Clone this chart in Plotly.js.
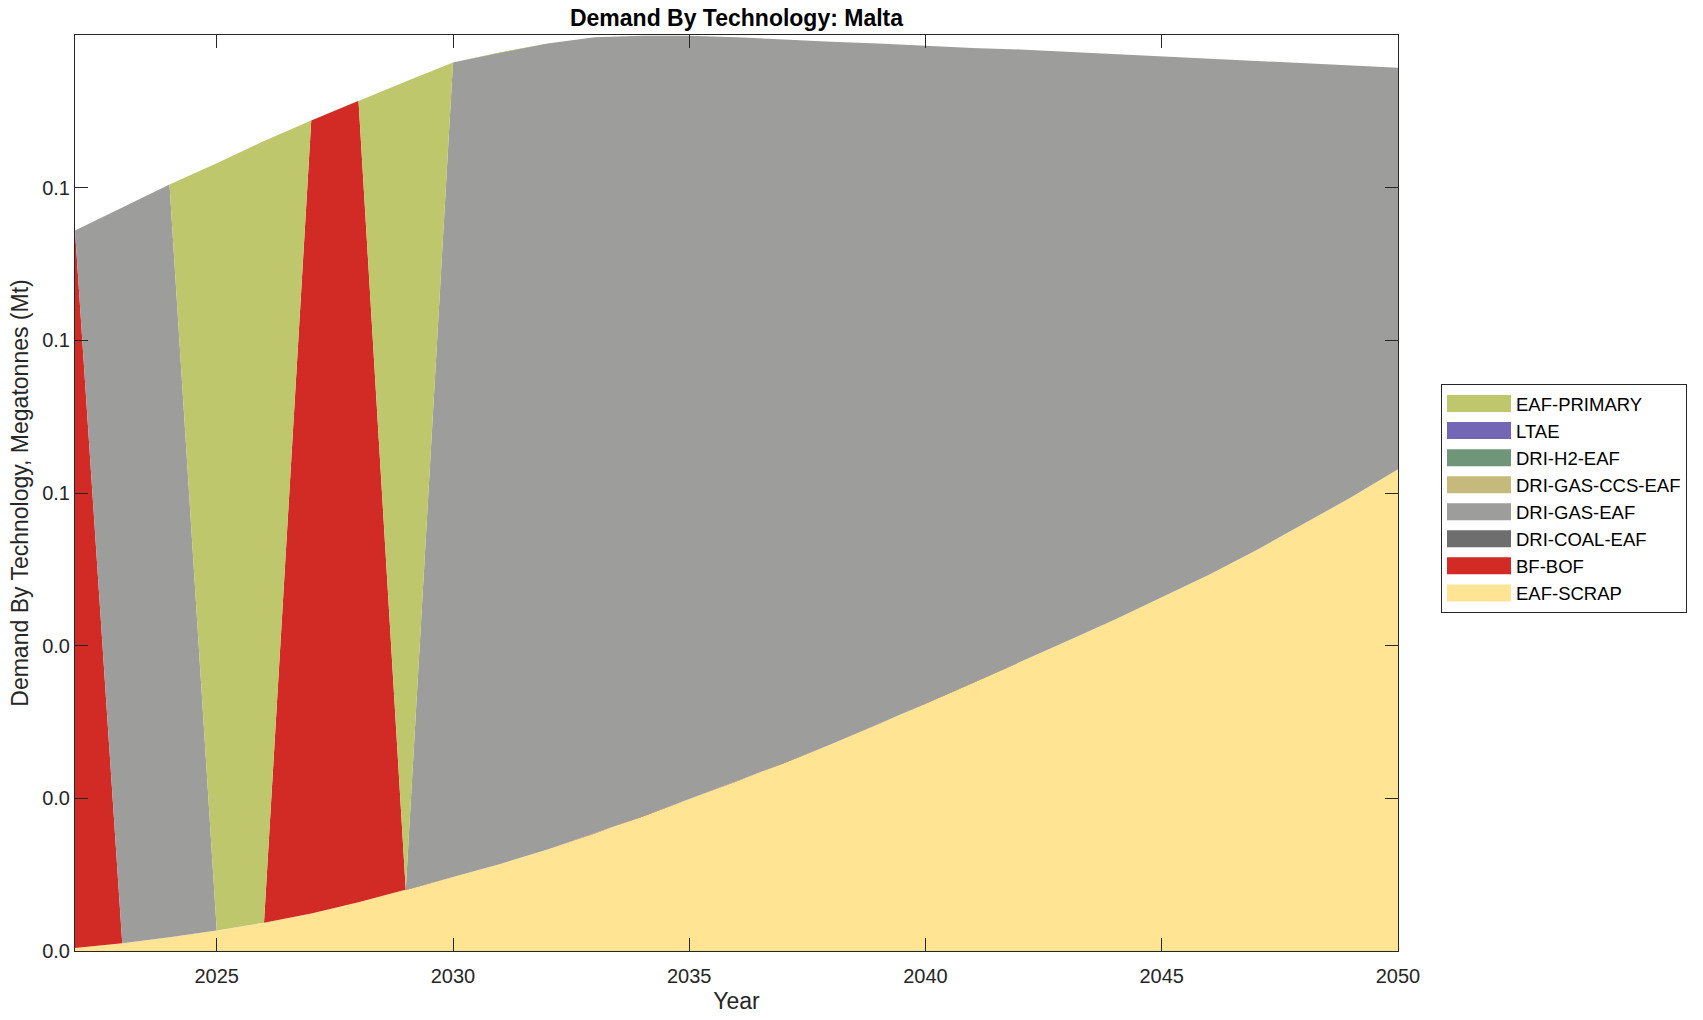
<!DOCTYPE html>
<html>
<head>
<meta charset="utf-8">
<script src="https://cdn.plot.ly/plotly-3.0.1.min.js"></script>
<style>
  html, body { margin: 0; padding: 0; background: #ffffff; }
  #chart { width: 1703px; height: 1020px; }
</style>
</head>
<body>
<div id="chart"></div>
<script>
// ---- data (Mt) ----
const years = [2022, 2023, 2024, 2025, 2026, 2027, 2028, 2029, 2030, 2031,
               2032, 2033, 2034, 2035, 2036, 2037, 2038, 2039, 2040, 2041,
               2042, 2043, 2044, 2045, 2046, 2047, 2048, 2049, 2050];

const eafScrap = [0.0004, 0.0010, 0.0018, 0.0027, 0.0037, 0.0049, 0.0064, 0.0080, 0.0097, 0.0114,
                  0.0133, 0.0154, 0.0176, 0.0199, 0.0222, 0.0246, 0.0271, 0.0297, 0.0324, 0.0351,
                  0.0378, 0.0406, 0.0434, 0.0463, 0.0493, 0.0525, 0.0559, 0.0594, 0.0631];

const bfBof = [0.0940, 0, 0, 0, 0, 0.1039, 0.1050, 0, 0, 0,
               0, 0, 0, 0, 0, 0, 0, 0, 0, 0,
               0, 0, 0, 0, 0, 0, 0, 0, 0];

const driCoalEaf = [0, 0, 0, 0, 0, 0, 0, 0, 0, 0,
                    0, 0, 0, 0, 0, 0, 0, 0, 0, 0,
                    0, 0, 0, 0, 0, 0, 0, 0, 0];

const driGasEaf = [0, 0.0964, 0.0986, 0, 0, 0, 0, 0, 0.1067, 0.1063,
                   0.1056, 0.1043, 0.1023, 0.1000, 0.0975, 0.0948, 0.0920, 0.0892, 0.0862, 0.0832,
                   0.0803, 0.0772, 0.0741, 0.0709, 0.0676, 0.0641, 0.0604, 0.0566, 0.0526];

const driGasCcsEaf = [0, 0, 0, 0, 0, 0, 0, 0, 0, 0,
                      0, 0, 0, 0, 0, 0, 0, 0, 0, 0,
                      0, 0, 0, 0, 0, 0, 0, 0, 0];

const driH2Eaf = [0, 0, 0, 0, 0, 0, 0, 0, 0, 0,
                  0, 0, 0, 0, 0, 0, 0, 0, 0, 0,
                  0, 0, 0, 0, 0, 0, 0, 0, 0];

const ltae = [0, 0, 0, 0, 0, 0, 0, 0, 0, 0,
              0, 0, 0, 0, 0, 0, 0, 0, 0, 0,
              0, 0, 0, 0, 0, 0, 0, 0, 0];

const eafPrimary = [0, 0, 0, 0.1005, 0.1024, 0, 0, 0.1059, 0, 0,
                    0, 0, 0, 0, 0, 0, 0, 0, 0, 0,
                    0, 0, 0, 0, 0, 0, 0, 0, 0];

const xTicks = [2025, 2030, 2035, 2040, 2045, 2050];
const yTicks = [0, 0.02, 0.04, 0.06, 0.08, 0.1];

// stacking order bottom -> top
const seriesNames = ['EAF-SCRAP', 'BF-BOF', 'DRI-COAL-EAF', 'DRI-GAS-EAF',
                     'DRI-GAS-CCS-EAF', 'DRI-H2-EAF', 'LTAE', 'EAF-PRIMARY'];
const seriesValues = [eafScrap, bfBof, driCoalEaf, driGasEaf,
                      driGasCcsEaf, driH2Eaf, ltae, eafPrimary];
const seriesColors = ['#FFE494', '#D22A25', '#6E6E6E', '#9D9D9B',
                      '#C5BA7C', '#70967A', '#7367B5', '#BEC76C'];

const FONT = 'Liberation Sans, Arial, Helvetica, sans-serif';
const AX = '#262626';

const traces = [];
seriesNames.forEach((name, i) => {
  traces.push({
    type: 'scatter',
    mode: 'lines',
    x: years,
    y: seriesValues[i],
    name: name,
    stackgroup: 'one',
    line: { width: 0, color: seriesColors[i] },
    fillcolor: seriesColors[i],
    showlegend: false,
    hoverinfo: 'x+y+name'
  });
});
// legend entries (top -> bottom as in reference)
for (let i = seriesNames.length - 1; i >= 0; i--) {
  traces.push({
    type: 'scatter',
    mode: 'lines',
    x: [null],
    y: [null],
    name: seriesNames[i],
    line: { width: 10, color: seriesColors[i] },
    showlegend: true,
    hoverinfo: 'skip'
  });
}

const layout = {
  width: 1703,
  height: 1020,
  paper_bgcolor: '#ffffff',
  plot_bgcolor: '#ffffff',
  margin: { l: 75, r: 305, t: 35, b: 69, pad: 0 },
  font: { family: FONT, color: AX, size: 20 },
  title: {
    text: '<b>Demand By Technology: Malta</b>',
    font: { family: FONT, size: 23, color: '#000000' },
    x: 0.5, xref: 'paper', xanchor: 'center',
    y: 1 - 17.5 / 1020, yref: 'container', yanchor: 'middle'
  },
  xaxis: {
    range: [2022, 2050],
    tickvals: xTicks,
    ticktext: xTicks.map(String),
    ticks: 'inside',
    ticklen: 13,
    tickwidth: 1,
    tickcolor: AX,
    ticklabelstandoff: 7,
    showline: true,
    linecolor: AX,
    linewidth: 1,
    mirror: 'ticks',
    showgrid: false,
    zeroline: false,
    tickfont: { family: FONT, size: 20, color: AX },
    title: { text: 'Year', font: { family: FONT, size: 23, color: AX }, standoff: 6 }
  },
  yaxis: {
    range: [0, 0.12],
    tickvals: yTicks,
    tickformat: '.1f',
    ticks: 'inside',
    ticklen: 13,
    tickwidth: 1,
    tickcolor: AX,
    showline: true,
    linecolor: AX,
    linewidth: 1,
    mirror: 'ticks',
    showgrid: false,
    zeroline: false,
    tickfont: { family: FONT, size: 20, color: AX },
    title: { text: 'Demand By Technology, Megatonnes (Mt)', font: { family: FONT, size: 23, color: AX }, standoff: 7 }
  },
  legend: {
    x: (1441 - 75) / 1323,
    y: (951 - 384) / 916,
    xanchor: 'left',
    yanchor: 'top',
    bgcolor: '#ffffff',
    bordercolor: AX,
    borderwidth: 1,
    traceorder: 'normal',
    itemwidth: 64,
    font: { family: FONT, size: 18.5, color: '#000000' },
    tracegroupgap: 0
  },
  showlegend: true,
  hovermode: 'closest'
};

Plotly.newPlot('chart', traces, layout, { displayModeBar: false, staticPlot: true }).then(function (gd) {
  // thicken legend swatches to match the reference's rectangular patches
  gd.querySelectorAll('.legend .legendlines path').forEach(function (p) {
    p.style.strokeWidth = '17px';
  });
});
</script>
</body>
</html>
